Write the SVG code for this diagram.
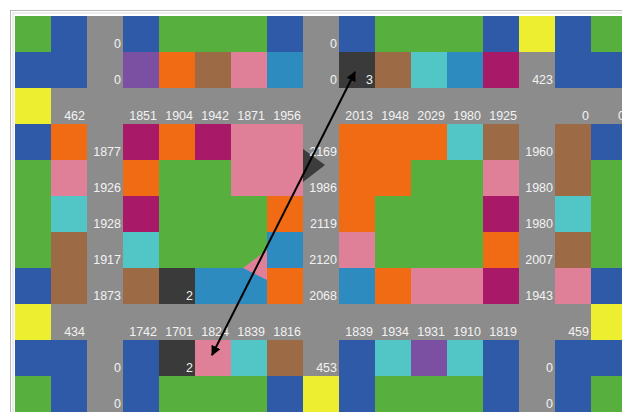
<svg xmlns="http://www.w3.org/2000/svg" width="622" height="412" viewBox="0 0 622 412">
<defs>
<style>
.G{fill:#57b03d}.B{fill:#2f5aa8}.X{fill:#8c8c8c}.Y{fill:#eeee30}.O{fill:#f06b14}.N{fill:#9c6b46}.P{fill:#e07f98}.S{fill:#2e8bc0}.C{fill:#52c6c6}.M{fill:#a81a68}.V{fill:#7b50a3}.D{fill:#3a3a3a}
text{font-family:"Liberation Sans",Arial,sans-serif;font-size:12.5px;fill:#f2f2f2;text-anchor:end}
.conn{stroke:#000;stroke-width:2;fill:none}
</style>
<marker id="ah" viewBox="0 0 10 10" refX="9" refY="5" markerWidth="5" markerHeight="5" orient="auto-start-reverse" markerUnits="strokeWidth">
<path d="M0,0 L10,5 L0,10 z" fill="#000"/>
</marker>
</defs>
<rect x="0" y="0" width="622" height="412" fill="#ffffff"/>
<rect x="10.5" y="10.5" width="620" height="410" fill="none" stroke="#b8b8b8"/>
<rect x="13" y="13" width="620" height="410" fill="none" stroke="#dcdcdc"/>
<g id="grid">
<g id="r0">
<rect class="G" x="15" y="16" width="36" height="36"/><rect class="B" x="51" y="16" width="36" height="36"/><rect class="X" x="87" y="16" width="36" height="36"/><rect class="B" x="123" y="16" width="36" height="36"/><rect class="G" x="159" y="16" width="36" height="36"/><rect class="G" x="195" y="16" width="36" height="36"/><rect class="G" x="231" y="16" width="36" height="36"/><rect class="B" x="267" y="16" width="36" height="36"/><rect class="X" x="303" y="16" width="36" height="36"/><rect class="B" x="339" y="16" width="36" height="36"/><rect class="G" x="375" y="16" width="36" height="36"/><rect class="G" x="411" y="16" width="36" height="36"/><rect class="G" x="447" y="16" width="36" height="36"/><rect class="B" x="483" y="16" width="36" height="36"/><rect class="Y" x="519" y="16" width="36" height="36"/><rect class="B" x="555" y="16" width="36" height="36"/><rect class="G" x="591" y="16" width="36" height="36"/>
</g>
<g id="r1">
<rect class="B" x="15" y="52" width="36" height="36"/><rect class="B" x="51" y="52" width="36" height="36"/><rect class="X" x="87" y="52" width="36" height="36"/><rect class="V" x="123" y="52" width="36" height="36"/><rect class="O" x="159" y="52" width="36" height="36"/><rect class="N" x="195" y="52" width="36" height="36"/><rect class="P" x="231" y="52" width="36" height="36"/><rect class="S" x="267" y="52" width="36" height="36"/><rect class="X" x="303" y="52" width="36" height="36"/><rect class="D" x="339" y="52" width="36" height="36"/><rect class="N" x="375" y="52" width="36" height="36"/><rect class="C" x="411" y="52" width="36" height="36"/><rect class="S" x="447" y="52" width="36" height="36"/><rect class="M" x="483" y="52" width="36" height="36"/><rect class="X" x="519" y="52" width="36" height="36"/><rect class="B" x="555" y="52" width="36" height="36"/><rect class="B" x="591" y="52" width="36" height="36"/>
</g>
<g id="r2">
<rect class="X" x="15" y="88" width="612" height="36"/><rect class="Y" x="15" y="88" width="36" height="36"/>
</g>
<g id="r3">
<rect class="B" x="15" y="124" width="36" height="36"/><rect class="O" x="51" y="124" width="36" height="36"/><rect class="X" x="87" y="124" width="36" height="36"/><rect class="M" x="123" y="124" width="36" height="36"/><rect class="O" x="159" y="124" width="36" height="36"/><rect class="M" x="195" y="124" width="36" height="36"/><rect class="P" x="231" y="124" width="36" height="36"/><rect class="P" x="267" y="124" width="36" height="36"/><rect class="X" x="303" y="124" width="36" height="36"/><rect class="O" x="339" y="124" width="36" height="36"/><rect class="O" x="375" y="124" width="36" height="36"/><rect class="O" x="411" y="124" width="36" height="36"/><rect class="C" x="447" y="124" width="36" height="36"/><rect class="N" x="483" y="124" width="36" height="36"/><rect class="X" x="519" y="124" width="36" height="36"/><rect class="N" x="555" y="124" width="36" height="36"/><rect class="B" x="591" y="124" width="36" height="36"/>
</g>
<g id="r4">
<rect class="G" x="15" y="160" width="36" height="36"/><rect class="P" x="51" y="160" width="36" height="36"/><rect class="X" x="87" y="160" width="36" height="36"/><rect class="O" x="123" y="160" width="36" height="36"/><rect class="G" x="159" y="160" width="36" height="36"/><rect class="G" x="195" y="160" width="36" height="36"/><rect class="P" x="231" y="160" width="36" height="36"/><rect class="P" x="267" y="160" width="36" height="36"/><rect class="X" x="303" y="160" width="36" height="36"/><rect class="O" x="339" y="160" width="36" height="36"/><rect class="O" x="375" y="160" width="36" height="36"/><rect class="G" x="411" y="160" width="36" height="36"/><rect class="G" x="447" y="160" width="36" height="36"/><rect class="P" x="483" y="160" width="36" height="36"/><rect class="X" x="519" y="160" width="36" height="36"/><rect class="N" x="555" y="160" width="36" height="36"/><rect class="G" x="591" y="160" width="36" height="36"/>
</g>
<g id="r5">
<rect class="G" x="15" y="196" width="36" height="36"/><rect class="C" x="51" y="196" width="36" height="36"/><rect class="X" x="87" y="196" width="36" height="36"/><rect class="M" x="123" y="196" width="36" height="36"/><rect class="G" x="159" y="196" width="36" height="36"/><rect class="G" x="195" y="196" width="36" height="36"/><rect class="G" x="231" y="196" width="36" height="36"/><rect class="O" x="267" y="196" width="36" height="36"/><rect class="X" x="303" y="196" width="36" height="36"/><rect class="O" x="339" y="196" width="36" height="36"/><rect class="G" x="375" y="196" width="36" height="36"/><rect class="G" x="411" y="196" width="36" height="36"/><rect class="G" x="447" y="196" width="36" height="36"/><rect class="M" x="483" y="196" width="36" height="36"/><rect class="X" x="519" y="196" width="36" height="36"/><rect class="C" x="555" y="196" width="36" height="36"/><rect class="G" x="591" y="196" width="36" height="36"/>
</g>
<g id="r6">
<rect class="G" x="15" y="232" width="36" height="36"/><rect class="N" x="51" y="232" width="36" height="36"/><rect class="X" x="87" y="232" width="36" height="36"/><rect class="C" x="123" y="232" width="36" height="36"/><rect class="G" x="159" y="232" width="36" height="36"/><rect class="G" x="195" y="232" width="36" height="36"/><rect class="G" x="231" y="232" width="36" height="36"/><rect class="S" x="267" y="232" width="36" height="36"/><rect class="X" x="303" y="232" width="36" height="36"/><rect class="P" x="339" y="232" width="36" height="36"/><rect class="G" x="375" y="232" width="36" height="36"/><rect class="G" x="411" y="232" width="36" height="36"/><rect class="G" x="447" y="232" width="36" height="36"/><rect class="O" x="483" y="232" width="36" height="36"/><rect class="X" x="519" y="232" width="36" height="36"/><rect class="N" x="555" y="232" width="36" height="36"/><rect class="G" x="591" y="232" width="36" height="36"/>
</g>
<g id="r7">
<rect class="B" x="15" y="268" width="36" height="36"/><rect class="N" x="51" y="268" width="36" height="36"/><rect class="X" x="87" y="268" width="36" height="36"/><rect class="N" x="123" y="268" width="36" height="36"/><rect class="D" x="159" y="268" width="36" height="36"/><rect class="S" x="195" y="268" width="36" height="36"/><rect class="S" x="231" y="268" width="36" height="36"/><rect class="O" x="267" y="268" width="36" height="36"/><rect class="X" x="303" y="268" width="36" height="36"/><rect class="S" x="339" y="268" width="36" height="36"/><rect class="O" x="375" y="268" width="36" height="36"/><rect class="P" x="411" y="268" width="36" height="36"/><rect class="P" x="447" y="268" width="36" height="36"/><rect class="M" x="483" y="268" width="36" height="36"/><rect class="X" x="519" y="268" width="36" height="36"/><rect class="P" x="555" y="268" width="36" height="36"/><rect class="B" x="591" y="268" width="36" height="36"/>
</g>
<g id="r8">
<rect class="X" x="15" y="304" width="612" height="36"/><rect class="Y" x="15" y="304" width="36" height="36"/><rect class="Y" x="591" y="304" width="36" height="36"/>
</g>
<g id="r9">
<rect class="B" x="15" y="340" width="36" height="36"/><rect class="B" x="51" y="340" width="36" height="36"/><rect class="X" x="87" y="340" width="36" height="36"/><rect class="B" x="123" y="340" width="36" height="36"/><rect class="D" x="159" y="340" width="36" height="36"/><rect class="P" x="195" y="340" width="36" height="36"/><rect class="C" x="231" y="340" width="36" height="36"/><rect class="N" x="267" y="340" width="36" height="36"/><rect class="X" x="303" y="340" width="36" height="36"/><rect class="B" x="339" y="340" width="36" height="36"/><rect class="C" x="375" y="340" width="36" height="36"/><rect class="V" x="411" y="340" width="36" height="36"/><rect class="C" x="447" y="340" width="36" height="36"/><rect class="B" x="483" y="340" width="36" height="36"/><rect class="X" x="519" y="340" width="36" height="36"/><rect class="B" x="555" y="340" width="36" height="36"/><rect class="B" x="591" y="340" width="36" height="36"/>
</g>
<g id="r10">
<rect class="G" x="15" y="376" width="36" height="36"/><rect class="B" x="51" y="376" width="36" height="36"/><rect class="X" x="87" y="376" width="36" height="36"/><rect class="B" x="123" y="376" width="36" height="36"/><rect class="G" x="159" y="376" width="36" height="36"/><rect class="G" x="195" y="376" width="36" height="36"/><rect class="G" x="231" y="376" width="36" height="36"/><rect class="B" x="267" y="376" width="36" height="36"/><rect class="Y" x="303" y="376" width="36" height="36"/><rect class="B" x="339" y="376" width="36" height="36"/><rect class="G" x="375" y="376" width="36" height="36"/><rect class="G" x="411" y="376" width="36" height="36"/><rect class="G" x="447" y="376" width="36" height="36"/><rect class="B" x="483" y="376" width="36" height="36"/><rect class="X" x="519" y="376" width="36" height="36"/><rect class="B" x="555" y="376" width="36" height="36"/><rect class="G" x="591" y="376" width="36" height="36"/>
</g>
</g>
<g id="marks">
<polygon points="303,149 325,165 303,182" fill="#2e2e2e" opacity="0.85"/>
<polygon points="267,250 243,268 267,280" fill="#e07f98"/>
</g>
<g id="labels">
<text x="121" y="48">0</text><text x="337" y="48">0</text>
<text x="121" y="84">0</text><text x="337" y="84">0</text><text x="373" y="84">3</text><text x="553" y="84">423</text>
<text x="85" y="120">462</text><text x="157" y="120">1851</text><text x="193" y="120">1904</text><text x="229" y="120">1942</text><text x="265" y="120">1871</text><text x="301" y="120">1956</text><text x="373" y="120">2013</text><text x="409" y="120">1948</text><text x="445" y="120">2029</text><text x="481" y="120">1980</text><text x="517" y="120">1925</text><text x="589" y="120">0</text><text x="625" y="120">0</text>
<text x="121" y="156">1877</text><text x="337" y="156">2169</text><text x="553" y="156">1960</text>
<text x="121" y="192">1926</text><text x="337" y="192">1986</text><text x="553" y="192">1980</text>
<text x="121" y="228">1928</text><text x="337" y="228">2119</text><text x="553" y="228">1980</text>
<text x="121" y="264">1917</text><text x="337" y="264">2120</text><text x="553" y="264">2007</text>
<text x="121" y="300">1873</text><text x="193" y="300">2</text><text x="337" y="300">2068</text><text x="553" y="300">1943</text>
<text x="85" y="336">434</text><text x="157" y="336">1742</text><text x="193" y="336">1701</text><text x="229" y="336">1824</text><text x="265" y="336">1839</text><text x="301" y="336">1816</text><text x="373" y="336">1839</text><text x="409" y="336">1934</text><text x="445" y="336">1931</text><text x="481" y="336">1910</text><text x="517" y="336">1819</text><text x="589" y="336">459</text>
<text x="121" y="372">0</text><text x="193" y="372">2</text><text x="337" y="372">453</text><text x="553" y="372">0</text>
<text x="121" y="408">0</text><text x="553" y="408">0</text>
</g>
<g id="connectors">
<line class="conn" x1="212" y1="355" x2="355" y2="72" marker-start="url(#ah)" marker-end="url(#ah)"/>
</g>
</svg>
